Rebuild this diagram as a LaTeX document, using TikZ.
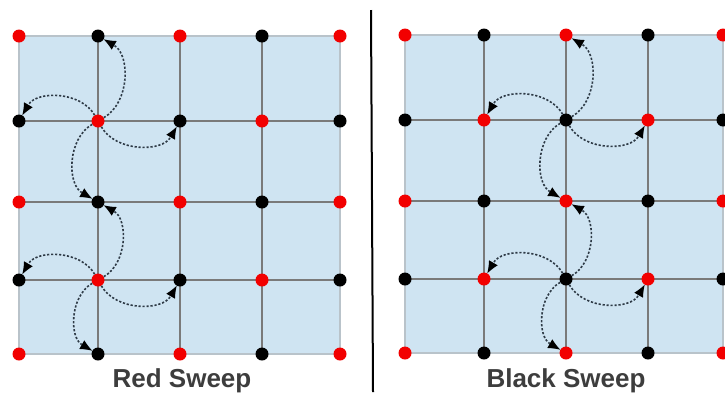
\documentclass[tikz,border=0pt]{standalone}
\usepackage{fontspec}
\setmainfont{Liberation Sans}
\usepackage{tikz}
\usetikzlibrary{arrows.meta, backgrounds}

\definecolor{gridfill}{HTML}{CFE4F2}
\definecolor{gridline}{HTML}{7A7A7A}
\definecolor{gridedge}{HTML}{B9C3CA}
\definecolor{sweepline}{HTML}{2E3A46}
\definecolor{dotred}{HTML}{F20000}
\definecolor{labelgray}{HTML}{3D3D3D}

\begin{document}
\begin{tikzpicture}[x=1pt, y=-1pt, >=Latex,
    dot/.style={circle, inner sep=0pt, minimum size=13pt},
    reddot/.style={dot, fill=dotred},
    blackdot/.style={dot, fill=black},
    inner/.style={draw=gridline, line width=2.2pt},
    edge/.style={draw=gridedge, line width=1.6pt},
    sweep/.style={-{Latex[length=12pt, width=10pt, black, line width=0pt]}, draw=sweepline, line width=1.6pt,
      dash pattern=on 2.2pt off 1.8pt, shorten >=0pt, bend right=60},
    caption/.style={font=\fontsize{26}{31}\selectfont\bfseries, text=labelgray, anchor=base},
    divider/.style={draw=black, line width=2pt}]
  \useasboundingbox (0,0) rectangle (725,392);

  % points of both grids
  \foreach \c [count=\i from 0] in {19,98,180,262,340} {
    \foreach \r [count=\j from 0] in {36,121,202,280,354} {
      \pgfmathtruncatemacro{\k}{mod(\i+\j,2)}
      \ifnum\k=0 \node[reddot] (L-\i-\j) at (\c,\r) {};
      \else \node[blackdot] (L-\i-\j) at (\c,\r) {}; \fi
    }
  }
  \foreach \c [count=\i from 0] in {405,484,566,648,723} {
    \foreach \r [count=\j from 0] in {35,120,201,279,353} {
      \pgfmathtruncatemacro{\k}{mod(\i+\j,2)}
      \ifnum\k=0 \node[reddot] (R-\i-\j) at (\c,\r) {};
      \else \node[blackdot] (R-\i-\j) at (\c,\r) {}; \fi
    }
  }

  % blue squares and grid lines
  \begin{scope}[on background layer]
    \foreach \g in {L,R} {
      \fill[gridfill] (\g-0-0.center) rectangle (\g-4-4.center);
      \foreach \n in {1,2,3} {
        \draw[inner] (\g-\n-0.center) -- (\g-\n-4.center);
        \draw[inner] (\g-0-\n.center) -- (\g-4-\n.center);
      }
      \draw[edge] (\g-0-0.center) rectangle (\g-4-4.center);
    }
  \end{scope}

  % updates to the four neighbours
  \foreach \g/\i/\j in {L/1/1, L/1/3, R/2/1, R/2/3} {
    \pgfmathtruncatemacro{\il}{\i-1}
    \pgfmathtruncatemacro{\ir}{\i+1}
    \pgfmathtruncatemacro{\ju}{\j-1}
    \pgfmathtruncatemacro{\jd}{\j+1}
    \draw[sweep] (\g-\i-\j) to (\g-\i-\ju);
    \draw[sweep] (\g-\i-\j) to (\g-\il-\j);
    \draw[sweep] (\g-\i-\j) to (\g-\ir-\j);
    \draw[sweep] (\g-\i-\j) to (\g-\i-\jd);
  }

  \coordinate (split top) at (371,10);
  \coordinate (split bottom) at (373,392);
  \draw[divider] (split top) -- (split bottom);

  \node[caption] (redcap) at (182,387) {Red Sweep};
  \node[caption] (blackcap) at (566,387) {Black Sweep};
\end{tikzpicture}
\end{document}
